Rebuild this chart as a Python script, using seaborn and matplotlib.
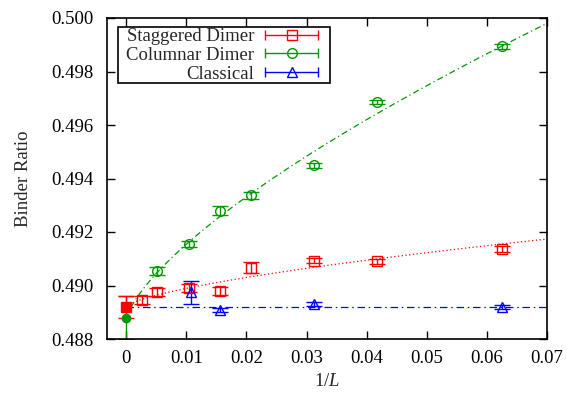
import numpy as np
import pandas as pd
import matplotlib
matplotlib.use("Agg")
import matplotlib.pyplot as plt
import seaborn as sns
from matplotlib.legend_handler import HandlerBase
from matplotlib.lines import Line2D
from matplotlib.patches import Rectangle
from matplotlib.transforms import IdentityTransform

# ---- data: Binder ratio vs inverse system size ----
stag_x = [0.0026, 0.0052, 0.0104, 0.0156, 0.0208, 0.03125, 0.04167, 0.0625]
stag_y = [0.48947, 0.48974, 0.48990, 0.48981, 0.49067, 0.49093, 0.49090, 0.49136]
stag_err = [0.00015, 0.00015, 0.00015, 0.00015, 0.00020, 0.00010, 0.00010, 0.00012]

col_x = [0.0052, 0.0104, 0.0156, 0.0208, 0.03125, 0.04167, 0.0625]
col_y = [0.49055, 0.49155, 0.49280, 0.49337, 0.49449, 0.49687, 0.49894]
col_err = [0.00015, 0.00012, 0.00018, 0.00012, 0.00008, 0.00008, 0.00010]

cls_x = [0.0108, 0.0156, 0.03125, 0.0625]
cls_y = [0.48974, 0.48909, 0.48931, 0.48919]
cls_err = [0.00042, 0.00008, 0.00008, 0.00007]

# extrapolated L -> infinity values (value, error)
stag_inf = [0.48920, 0.00040]
col_inf = [0.48880, 0.00080]

# fit parameters: a + b * x**c
stag_fit = [0.48920, 0.01495, 0.667]
col_fit = [0.48870, 0.0714, 0.70]
cls_fit = [0.48921]                        # constant

x_ticks = [0, 0.01, 0.02, 0.03, 0.04, 0.05, 0.06, 0.07]
x_tick_labels = ["0", "0.01", "0.02", "0.03", "0.04", "0.05", "0.06", "0.07"]
y_ticks = [0.488, 0.490, 0.492, 0.494, 0.496, 0.498, 0.500]
y_tick_labels = ["0.488", "0.490", "0.492", "0.494", "0.496", "0.498", "0.500"]

RED, GREEN, BLUE = "#ff0000", "#009900", "#0000ff"
FS = 13.5

sns.set_theme(style="ticks")
plt.rcParams["font.family"] = ["Liberation Serif", "DejaVu Serif"]
plt.rcParams["mathtext.fontset"] = "custom"
plt.rcParams["mathtext.rm"] = "Liberation Serif"
plt.rcParams["mathtext.it"] = "Liberation Serif:italic"

fig = plt.figure(figsize=(5.67, 3.94), dpi=100)
ax = fig.add_axes([107 / 567, 55 / 394, 440 / 567, 321 / 394])

# fit curves
xs = np.linspace(0, 0.07, 600)
fits = pd.DataFrame({
    "x": np.concatenate([xs, xs, xs]),
    "y": np.concatenate([
        stag_fit[0] + stag_fit[1] * xs ** stag_fit[2],
        col_fit[0] + col_fit[1] * xs ** col_fit[2],
        np.full_like(xs, cls_fit[0]),
    ]),
    "fit": ["stag"] * len(xs) + ["col"] * len(xs) + ["cls"] * len(xs),
})
styles = {
    "stag": dict(color=RED, dashes=(1, 2)),
    "col": dict(color=GREEN, dashes=(5, 2.5, 1, 2.5)),
    "cls": dict(color=BLUE, dashes=(6, 3, 1.2, 3)),
}
for key, st in styles.items():
    sub = fits[fits["fit"] == key]
    sns.lineplot(data=sub, x="x", y="y", ax=ax, color=st["color"], lw=0.9,
                 legend=False, sort=False)
    ax.lines[-1].set_dashes(st["dashes"])

eb_kw = dict(ls="none", capsize=6, elinewidth=1.0, capthick=1.0,
             markeredgewidth=1.0, markerfacecolor="none")
ax.errorbar(stag_x, stag_y, yerr=stag_err, marker="s", ms=7, color=RED, **eb_kw)
ax.errorbar(col_x, col_y, yerr=col_err, marker="o", ms=7, color=GREEN, **eb_kw)
ax.errorbar(cls_x, cls_y, yerr=cls_err, marker="^", ms=7, color=BLUE, **eb_kw)

# extrapolated points (filled)
ax.errorbar([0], [col_inf[0]], yerr=[col_inf[1]], marker="o", ms=6, color=GREEN,
            mfc=GREEN, ls="none", capsize=6, elinewidth=1.0, capthick=1.0)
ax.errorbar([0], [stag_inf[0]], yerr=[stag_inf[1]], marker="s", ms=7, color=RED,
            mfc=RED, ls="none", capsize=6, elinewidth=1.0, capthick=1.0)

ax.set_xlim(-0.0032, 0.07)
ax.set_ylim(0.488, 0.500)
ax.set_xticks(x_ticks)
ax.set_xticklabels(x_tick_labels)
ax.set_yticks(y_ticks)
ax.set_yticklabels(y_tick_labels)
ax.tick_params(direction="in", length=6, width=1.0, top=True, right=True,
               labelsize=FS, colors="black")
ax.tick_params(axis="y", pad=9.5)
ax.tick_params(axis="x", pad=8)
for s in ax.spines.values():
    s.set_visible(True)
    s.set_linewidth(1.2)
    s.set_color("black")
ax.set_xlabel("1/$L$", fontsize=FS, labelpad=4)
ax.set_ylabel("Binder Ratio", fontsize=FS, labelpad=14)
ax.grid(False)


class CappedLine(HandlerBase):
    """Horizontal line with end caps and a marker in the middle."""

    def create_artists(self, legend, orig_handle, xdescent, ydescent,
                       width, height, fontsize, trans):
        c = orig_handle.get_color()
        y = height / 2 - ydescent
        x0, x1 = -xdescent, width - xdescent
        line = Line2D([x0, x1], [y, y], color=c, lw=1.0)
        caps = Line2D([x0, x1], [y, y], ls="none", marker="|", ms=7,
                      mew=1.0, color=c)
        mk = Line2D([(x0 + x1) / 2], [y], ls="none",
                    marker=orig_handle.get_marker(), ms=7, mew=1.0,
                    mfc="none", mec=c)
        for a in (line, caps, mk):
            a.set_transform(trans)
        return [line, caps, mk]


handles = [Line2D([], [], color=RED, marker="s"),
           Line2D([], [], color=GREEN, marker="o"),
           Line2D([], [], color=BLUE, marker="^")]
labels = ["Staggered Dimer", "Columnar Dimer", "Classical"]
leg = ax.legend(handles, labels, handler_map={Line2D: CappedLine()},
                loc="upper left", bbox_to_anchor=(0.043, 0.968), markerfirst=False,
                fontsize=FS, frameon=False, handlelength=2.83, handletextpad=0.59,
                labelspacing=0.08, borderpad=0, borderaxespad=0)

# box drawn around the legend entries with gnuplot-like padding
fig.canvas.draw()
bb = leg.get_window_extent(fig.canvas.get_renderer())
pad_l, pad_r, pad_top, pad_bot = 8, 12, 1, 0
fig.add_artist(Rectangle((bb.x0 - pad_l, bb.y0 - pad_bot),
                         bb.width + pad_l + pad_r, bb.height + pad_top + pad_bot,
                         transform=IdentityTransform(), fill=False,
                         edgecolor="black", lw=1.2, zorder=6))

fig.savefig("out.png", dpi=100)
